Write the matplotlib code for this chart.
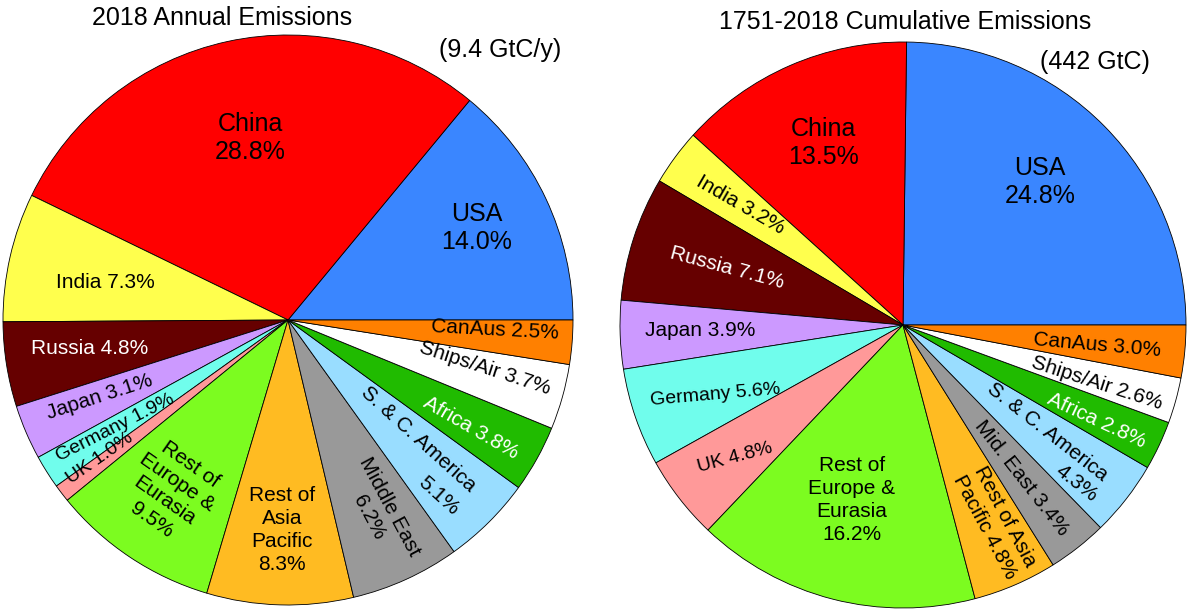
import matplotlib.pyplot as plt

plt.rcParams['font.family'] = ['Liberation Sans', 'DejaVu Sans']

regions = ['USA', 'China', 'India', 'Russia', 'Japan', 'Germany', 'UK',
           'Rest of Europe & Eurasia', 'Rest of Asia Pacific', 'Middle East',
           'S. & C. America', 'Africa', 'Ships/Air', 'CanAus']
annual = [14.0, 28.8, 7.3, 4.8, 3.1, 1.9, 1.0, 9.5, 8.3, 6.2, 5.1, 3.8, 3.7, 2.5]
cumulative = [24.8, 13.5, 3.2, 7.1, 3.9, 5.6, 4.8, 16.2, 4.8, 3.4, 4.3, 2.8, 2.6, 3.0]

colors = ['#3a86ff', '#ff0000', '#ffff4d', '#660000', '#cc99ff', '#70fdec', '#ff9999',
          '#7cfc20', '#ffbb22', '#999999', '#99ddff', '#20bb00', '#ffffff', '#ff8000']
text_colors = ['black', 'black', 'black', 'white', 'black', 'black', 'black',
               'black', 'black', 'black', 'black', 'white', 'black', 'black']
font_sizes = [18, 18, 15, 15, 15, 14, 14, 15, 15, 15, 15, 15, 15, 15]

# label text (name part), positions in pixels and rotation
# value_pos: where the percentage goes on its own line (None = joined to name)
left_names = ['USA\n', 'China\n', 'India ', 'Russia ', 'Japan ', 'Germany ', 'UK ',
              'Rest of\nEurope &\nEurasia\n', 'Rest of\nAsia\nPacific\n', 'Middle East\n',
              'S. & C. America', 'Africa ', 'Ships/Air ', 'CanAus ']
left_pos = [(477, 228), (250, 138), (105, 283), (90, 348), (100, 397), (115, 428), (100, 458),
            (171, 492), (282, 530), (379, 512), (418, 439), (471, 428), (485, 368), (495, 330)]
left_rot = [0, 0, 0, 0, 18, 27, 35, -35, 0, -62, -42, -30, -18, -3]
left_value_pos = {10: (439, 496)}

right_names = ['USA\n', 'China\n', 'India ', 'Russia ', 'Japan ', 'Germany ', 'UK ',
               'Rest of\nEurope &\nEurasia\n', 'Rest of Asia\nPacific ', 'Mid. East ',
               'S. & C. America', 'Africa ', 'Ships/Air ', 'CanAus ']
right_pos = [(1040, 182), (823, 143), (740, 205), (727, 268), (700, 330), (715, 395), (735, 458),
             (852, 500), (995, 522), (1022, 478), (1047, 432), (1097, 420), (1097, 383), (1097, 345)]
right_rot = [0, 0, -30, -15, 0, 5, 15, 0, -62, -52, -38, -25, -18, -5]
right_value_pos = {10: (1077, 483)}

W, H = 1187, 613
fig = plt.figure(figsize=(W / 100, H / 100), dpi=100)
ax = fig.add_axes([0, 0, 1, 1])

for vals, center, r, names, pos, rot, vpos in [
        (annual, (288, H - 320), 285, left_names, left_pos, left_rot, left_value_pos),
        (cumulative, (903, H - 325), 283, right_names, right_pos, right_rot, right_value_pos)]:
    ax.pie(vals, colors=colors, center=center, radius=r, startangle=0, counterclock=True,
           wedgeprops=dict(edgecolor='black', linewidth=0.6), frame=True)
    for i in range(len(vals)):
        style = dict(color=text_colors[i], fontsize=font_sizes[i], ha='center', va='center',
                     rotation=rot[i], linespacing=1.25, multialignment='center')
        if i in vpos:
            ax.text(pos[i][0], H - pos[i][1], names[i], **style)
            ax.text(vpos[i][0], H - vpos[i][1], f'{vals[i]:.1f}%', **style)
        else:
            ax.text(pos[i][0], H - pos[i][1], f'{names[i]}{vals[i]:.1f}%', **style)

ax.set_xlim(0, W)
ax.set_ylim(0, H)
ax.set_aspect('equal')
ax.axis('off')

ax.text(222, H - 18, '2018 Annual Emissions', fontsize=18, ha='center', va='center')
ax.text(500, H - 50, '(9.4 GtC/y)', fontsize=18, ha='center', va='center')
ax.text(905, H - 22, '1751-2018 Cumulative Emissions', fontsize=18, ha='center', va='center')
ax.text(1095, H - 62, '(442 GtC)', fontsize=18, ha='center', va='center')

fig.savefig('out.png', dpi=100)
